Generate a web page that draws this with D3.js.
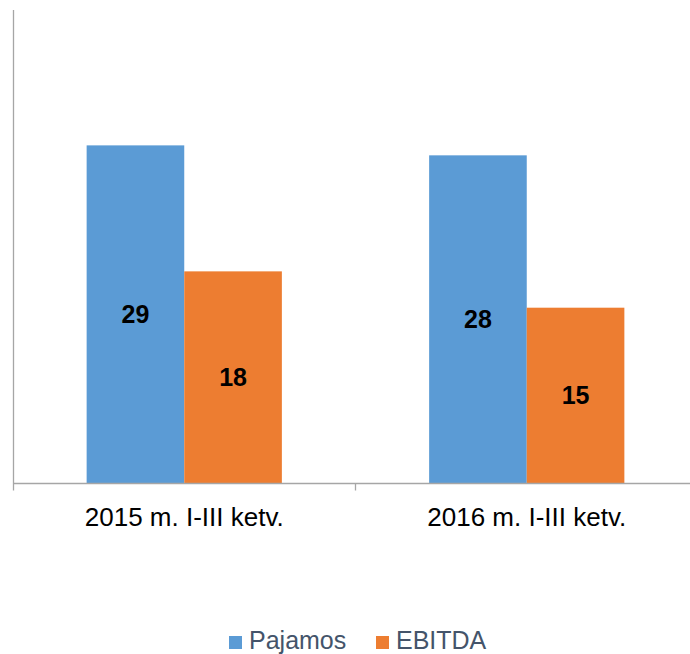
<!DOCTYPE html>
<html>
<head>
<meta charset="utf-8">
<script src="https://cdn.jsdelivr.net/npm/d3@7"></script>
<style>
  body { margin: 0; background: #fff; }
  svg text { font-family: Arial, "Liberation Sans", sans-serif; }
</style>
</head>
<body>
<svg width="690" height="654"></svg>
<script>
// data
var categories = ['2015 m. I-III ketv.', '2016 m. I-III ketv.'];
var seriesNames = ['Pajamos', 'EBITDA'];
var pajamos = [28.85, 28.0];
var ebitda = [18.1, 15.0];

var colors = {Pajamos: '#5B9BD5', EBITDA: '#ED7D31'};

var svg = d3.select('svg');
var baseY = 483.5;
var topY = 10;

// scales
var x0 = d3.scaleBand().domain(categories).range([13, 698])
    .paddingInner(0.43).paddingOuter(0.215);
var x1 = d3.scaleBand().domain(seriesNames).range([0, x0.bandwidth()]);
var y = d3.scaleLinear().domain([0, 40.4]).range([baseY, topY]);

var rows = categories.map(function(c, i) {
    return {cat: c, values: [
        {name: 'Pajamos', v: pajamos[i]},
        {name: 'EBITDA', v: ebitda[i]}
    ]};
});

// bars
var groups = svg.selectAll('.grp')
    .data(rows)
    .enter().append('g')
    .attr('class', 'grp')
    .attr('transform', function(d) { return 'translate(' + [x0(d.cat), 0] + ')'; });

groups.selectAll('rect')
    .data(function(d) { return d.values; })
    .enter().append('rect')
    .attr('x', function(d) { return x1(d.name); })
    .attr('width', x1.bandwidth())
    .attr('y', function(d) { return y(d.v); })
    .attr('height', function(d) { return baseY - y(d.v); })
    .attr('fill', function(d) { return colors[d.name]; });

groups.selectAll('.lbl')
    .data(function(d) { return d.values; })
    .enter().append('text')
    .attr('class', 'lbl')
    .attr('x', function(d) { return x1(d.name) + x1.bandwidth() / 2; })
    .attr('y', function(d) { return (y(d.v) + baseY) / 2; })
    .attr('dy', '0.35em')
    .attr('text-anchor', 'middle')
    .style('font-size', '25px')
    .style('font-weight', 'bold')
    .attr('fill', '#000')
    .text(function(d) { return d3.format('.0f')(d.v); });

// y axis line (no ticks)
svg.append('line')
    .attr('x1', 13.5).attr('x2', 13.5)
    .attr('y1', y.range()[1]).attr('y2', baseY)
    .attr('stroke', '#A6A6A6').attr('stroke-width', 1.3);

// x axis
var xAxis = svg.append('g')
    .attr('transform', 'translate(0,' + baseY + ')');
xAxis.append('line')
    .attr('x1', 13).attr('x2', 690)
    .attr('stroke', '#A6A6A6').attr('stroke-width', 1.3);
var tickXs = [13.5].concat(categories.map(function(c) { return x0(c) + x0.bandwidth() + x0.step() * 0.215; }));
xAxis.selectAll('.tick')
    .data(tickXs)
    .enter().append('line')
    .attr('x1', function(d) { return d; }).attr('x2', function(d) { return d; })
    .attr('y1', 0).attr('y2', 7)
    .attr('stroke', '#A6A6A6').attr('stroke-width', 1.3);
xAxis.selectAll('.cat')
    .data(categories)
    .enter().append('text')
    .attr('x', function(d) { return x0(d) + x0.bandwidth() / 2; })
    .attr('y', 42)
    .attr('text-anchor', 'middle')
    .style('font-size', '26px')
    .attr('fill', '#000')
    .text(function(d) { return d; });

// legend
var legendItems = [{name: 'Pajamos', x: 229}, {name: 'EBITDA', x: 376}];
var legend = svg.selectAll('.leg')
    .data(legendItems)
    .enter().append('g')
    .attr('class', 'leg')
    .attr('transform', function(d) { return 'translate(' + [d.x, 636] + ')'; });
legend.append('rect')
    .attr('width', 13).attr('height', 13)
    .attr('fill', function(d) { return colors[d.name]; });
legend.append('text')
    .attr('x', 20)
    .attr('y', 13)
    .style('font-size', '25px')
    .attr('fill', '#44546A')
    .text(function(d) { return d.name; });
</script>
</body>
</html>
